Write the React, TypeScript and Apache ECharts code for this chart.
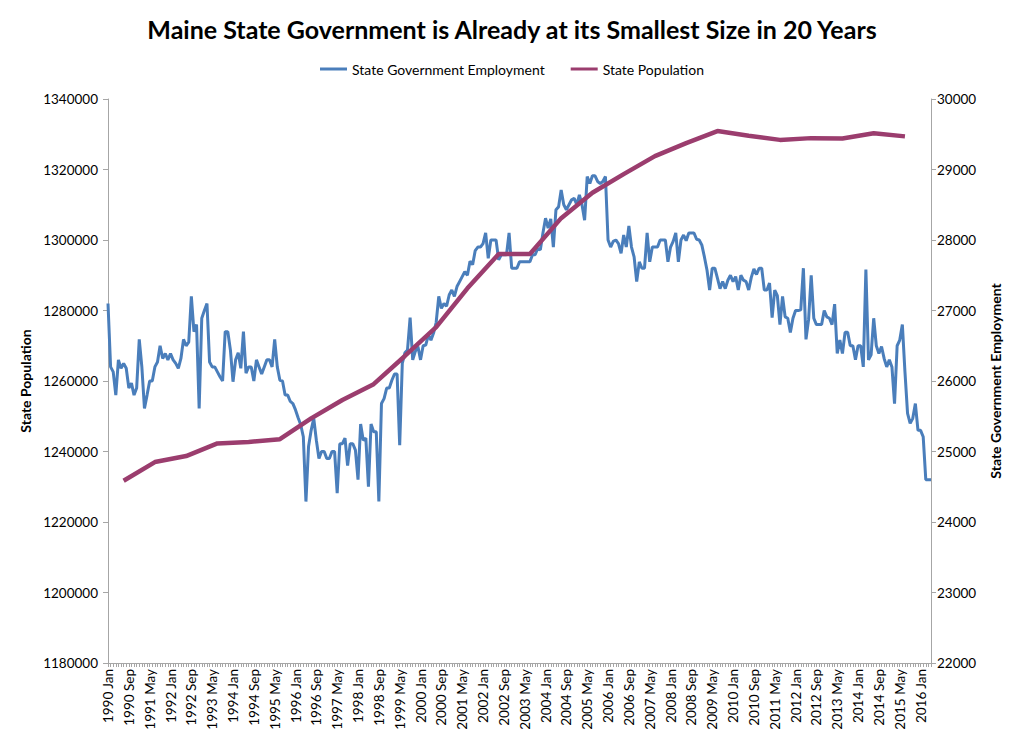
import React, { useEffect, useRef } from "react";
import * as echarts from "echarts";

const title = "Maine State Government is Already at its Smallest Size in 20 Years";
const years = [1990, 1991, 1992, 1993, 1994, 1995, 1996, 1997, 1998, 1999, 2000, 2001, 2002, 2003, 2004, 2005, 2006, 2007, 2008, 2009, 2010, 2011, 2012, 2013, 2014, 2015, 2016];
const monthNames = ["Jan", "Feb", "Mar", "Apr", "May", "Jun", "Jul", "Aug", "Sep", "Oct", "Nov", "Dec"];

// State Government Employment (monthly, right axis)
const emp1990 = [27100, 26200, 26130, 25800, 26300, 26180, 26250, 26180, 25900, 25970, 25800, 25900];
const emp1991 = [26590, 26200, 25610, 25800, 26000, 26000, 26200, 26270, 26500, 26320, 26390, 26300];
const emp1992 = [26390, 26300, 26250, 26180, 26320, 26590, 26500, 26550, 27200, 26700, 26800, 25610];
const emp1993 = [26890, 27000, 27100, 26270, 26200, 26200, 26130, 26060, 26000, 26700, 26700, 26440];
const emp1994 = [25990, 26300, 26400, 26180, 26700, 26110, 26200, 26200, 26000, 26300, 26200, 26100];
const emp1995 = [26200, 26300, 26300, 26200, 26590, 26200, 26010, 26000, 25800, 25800, 25710, 25680];
const emp1996 = [25590, 25480, 25380, 25210, 24290, 25070, 25300, 25470, 25160, 24900, 25000, 25000];
const emp1997 = [24900, 24900, 25000, 25000, 24410, 25110, 25110, 25190, 24800, 25110, 25110, 25020];
const emp1998 = [24600, 25390, 25160, 25190, 24500, 25390, 25280, 25280, 24290, 25680, 25750, 25900];
const emp1999 = [25900, 26010, 26100, 26100, 25090, 26250, 26400, 26440, 26900, 26300, 26420, 26490];
const emp2000 = [26300, 26500, 26510, 26650, 26580, 26680, 26830, 27200, 27030, 27100, 27060, 27220];
const emp2001 = [27290, 27200, 27340, 27410, 27480, 27550, 27500, 27700, 27650, 27850, 27900, 27900];
const emp2002 = [27950, 28100, 27740, 28000, 28000, 28000, 27720, 27790, 27790, 27790, 28100, 27600];
const emp2003 = [27600, 27600, 27690, 27690, 27690, 27690, 27690, 27790, 27790, 27880, 27860, 28100];
const emp2004 = [28310, 28170, 28300, 27900, 28430, 28470, 28710, 28500, 28430, 28500, 28570, 28590];
const emp2005 = [28500, 28640, 28500, 28280, 28900, 28800, 28910, 28910, 28830, 28800, 28830, 28900];
const emp2006 = [28000, 27900, 27980, 28000, 27950, 27810, 28070, 27900, 28200, 27900, 27760, 27410];
const emp2007 = [27690, 27600, 27600, 28100, 27690, 27900, 27900, 27900, 28000, 28000, 28000, 27690];
const emp2008 = [27900, 27980, 28100, 27690, 28000, 28070, 27990, 28100, 28100, 28100, 28010, 28000];
const emp2009 = [27930, 27760, 27570, 27290, 27600, 27600, 27460, 27310, 27410, 27310, 27430, 27500];
const emp2010 = [27410, 27480, 27290, 27500, 27430, 27410, 27290, 27470, 27590, 27510, 27600, 27600];
const emp2011 = [27290, 27290, 27390, 26900, 27290, 27210, 26800, 27200, 26910, 26890, 26690, 26890];
const emp2012 = [27000, 27000, 27010, 27600, 26590, 26870, 27500, 26890, 26800, 26800, 26800, 27000];
const emp2013 = [26910, 26890, 26800, 27090, 26390, 26580, 26390, 26690, 26690, 26500, 26500, 26300];
const emp2014 = [26500, 26500, 26200, 27580, 26300, 26370, 26890, 26500, 26390, 26490, 26320, 26200];
const emp2015 = [26300, 26200, 25680, 26500, 26580, 26800, 26130, 25540, 25400, 25470, 25680, 25300];
const emp2016 = [25300, 25210, 24600, 24600, 24600];

// State Population (annual, July estimates, left axis)
const popYears = [1990, 1991, 1992, 1993, 1994, 1995, 1996, 1997, 1998, 1999, 2000, 2001, 2002, 2003, 2004, 2005, 2006, 2007, 2008, 2009, 2010, 2011, 2012, 2013, 2014, 2015];
const popValues = [1231700, 1237000, 1238700, 1242300, 1242700, 1243500, 1249400, 1254600, 1259100, 1267100, 1275300, 1286300, 1296000, 1296000, 1306200, 1313400, 1318700, 1323800, 1327500, 1330900, 1329600, 1328400, 1328900, 1328800, 1330300, 1329400];

const employment = [
  ...emp1990, ...emp1991, ...emp1992, ...emp1993, ...emp1994, ...emp1995, ...emp1996,
  ...emp1997, ...emp1998, ...emp1999, ...emp2000, ...emp2001, ...emp2002, ...emp2003,
  ...emp2004, ...emp2005, ...emp2006, ...emp2007, ...emp2008, ...emp2009, ...emp2010,
  ...emp2011, ...emp2012, ...emp2013, ...emp2014, ...emp2015, ...emp2016,
];

const categories: string[] = [];
years.forEach((y) => monthNames.forEach((m) => categories.push(`${y} ${m}`)));
const xCategories = categories.slice(0, employment.length);

const FONT = "Lato, 'Open Sans', sans-serif";
const AXIS_COLOR = "#a6a6a6";
const BLUE = "#4a7ebb";
const PURPLE = "#9b3d6e";

export default function App() {
  const ref = useRef<HTMLDivElement>(null);
  useEffect(() => {
    if (!ref.current) return;
    const chart = echarts.init(ref.current, null, { renderer: "svg" });
    chart.setOption({
      animation: false,
      backgroundColor: "#ffffff",
      textStyle: { fontFamily: FONT },
      title: {
        text: title,
        left: "center",
        top: 11,
        textStyle: { fontFamily: FONT, fontSize: 25, fontWeight: "bold", color: "#000" },
      },
      legend: {
        top: 57,
        left: "center",
        icon: "rect",
        itemWidth: 27,
        itemHeight: 3,
        itemGap: 26,
        textStyle: { fontFamily: FONT, fontSize: 14, color: "#000" },
        data: ["State Government Employment", "State Population"],
      },
      grid: { left: 108, right: 93, top: 99, bottom: 81, containLabel: false },
      xAxis: {
        type: "category",
        boundaryGap: false,
        data: xCategories,
        axisLine: { show: true, lineStyle: { color: AXIS_COLOR, width: 1 } },
        axisTick: { show: true, interval: 0, length: 4, lineStyle: { color: AXIS_COLOR } },
        axisLabel: {
          interval: 7,
          rotate: 90,
          fontFamily: FONT,
          fontSize: 13.5,
          color: "#000",
          margin: 6,
        },
        splitLine: { show: false },
      },
      yAxis: [
        {
          type: "value",
          position: "left",
          min: 1180000,
          max: 1340000,
          interval: 20000,
          name: "State Population",
          nameLocation: "middle",
          nameRotate: 90,
          nameGap: 66,
          nameTextStyle: { fontFamily: FONT, fontSize: 14, fontWeight: "bold", color: "#000" },
          axisLine: { show: true, lineStyle: { color: AXIS_COLOR } },
          axisTick: { show: true, length: 5, lineStyle: { color: AXIS_COLOR } },
          axisLabel: { fontFamily: FONT, fontSize: 13.5, color: "#000", margin: 10, formatter: (v: number) => String(v) },
          splitLine: { show: false },
        },
        {
          type: "value",
          position: "right",
          min: 22000,
          max: 30000,
          interval: 1000,
          name: "State Government Employment",
          nameLocation: "middle",
          nameRotate: 90,
          nameGap: 57,
          nameTextStyle: { fontFamily: FONT, fontSize: 14, fontWeight: "bold", color: "#000" },
          axisLine: { show: true, lineStyle: { color: AXIS_COLOR } },
          axisTick: { show: true, length: 5, lineStyle: { color: AXIS_COLOR } },
          axisLabel: { fontFamily: FONT, fontSize: 13.5, color: "#000", margin: 6, formatter: (v: number) => String(v) },
          splitLine: { show: false },
        },
      ],
      series: [
        {
          name: "State Government Employment",
          type: "line",
          yAxisIndex: 1,
          data: employment,
          symbol: "none",
          lineStyle: { color: BLUE, width: 3 },
          itemStyle: { color: BLUE },
          z: 2,
        },
        {
          name: "State Population",
          type: "line",
          yAxisIndex: 0,
          data: popYears.map((y, i) => [`${y} Jul`, popValues[i]]),
          symbol: "none",
          connectNulls: true,
          lineStyle: { color: PURPLE, width: 4.5 },
          itemStyle: { color: PURPLE },
          z: 3,
        },
      ],
    });
    return () => chart.dispose();
  }, []);
  return <div ref={ref} style={{ position: "fixed", left: 0, top: 0, width: 1024, height: 744 }} />;
}
